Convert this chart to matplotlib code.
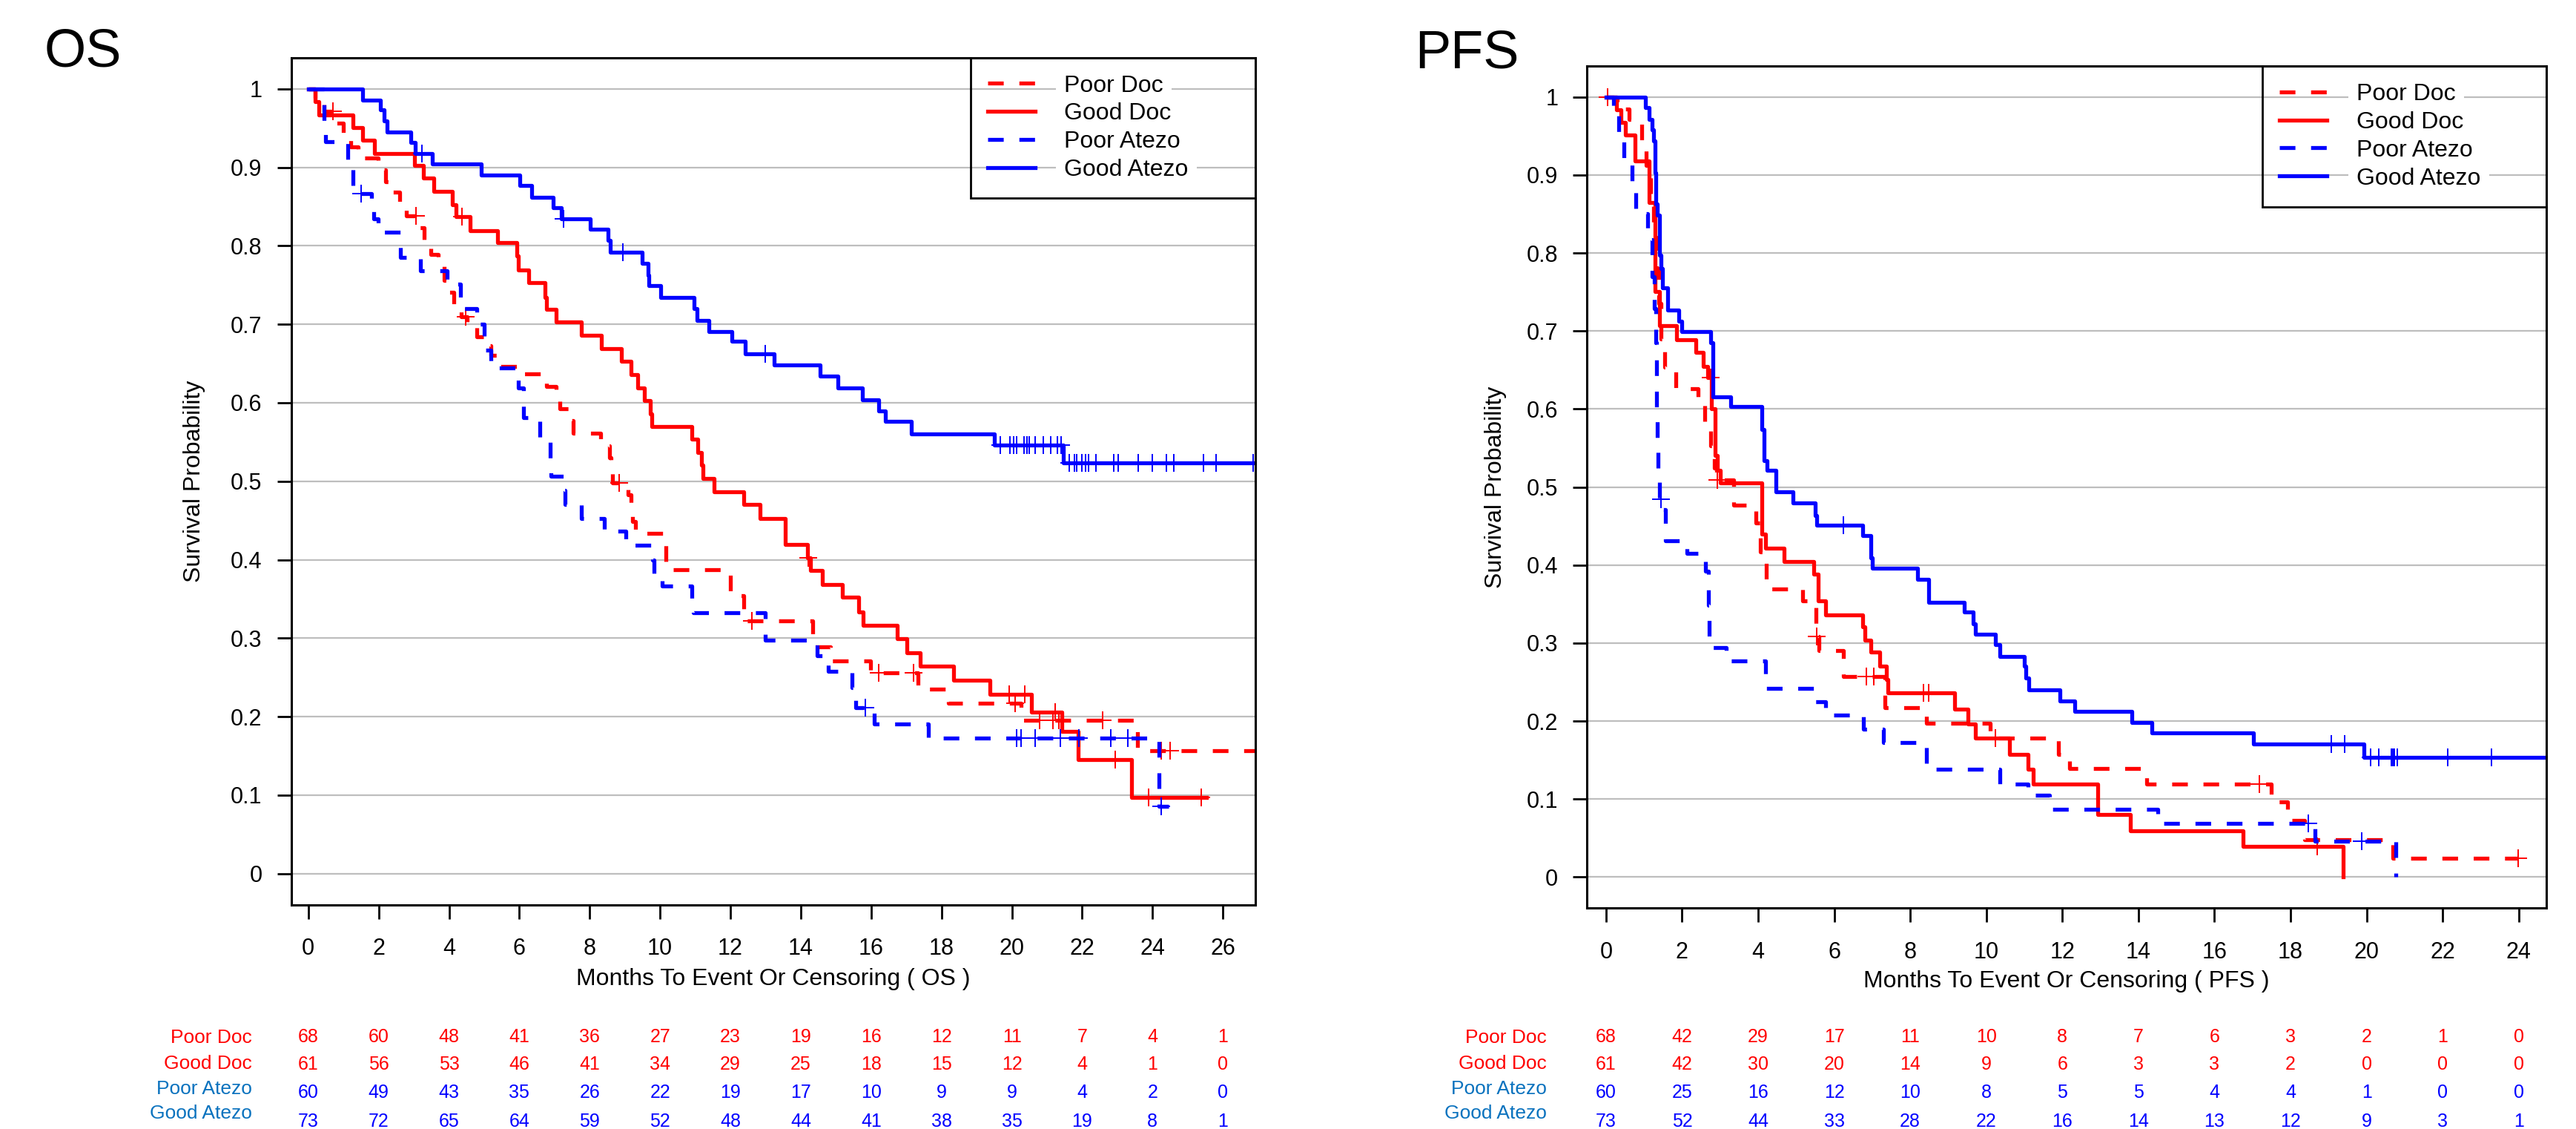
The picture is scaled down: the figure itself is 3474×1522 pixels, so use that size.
import matplotlib
matplotlib.use('Agg')
import matplotlib.pyplot as plt
import numpy as np
from matplotlib.transforms import blended_transform_factory

plt.rcParams['font.family'] = ['Liberation Sans', 'DejaVu Sans']

groups = ['Poor Doc', 'Good Doc', 'Poor Atezo', 'Good Atezo']
line_colors = ['#FF0000', '#FF0000', '#0000FF', '#0000FF']
label_colors = ['#FF0000', '#FF0000', '#0A72BE', '#0A72BE']
line_styles = [(0, (4, 4)), 'solid', (0, (4, 4)), 'solid']

# ---------------- OS (months) ----------------
os_poor_doc_t = [0.19, 0.45, 0.80, 0.99, 1.20, 1.41, 1.98, 2.20, 2.35, 2.60, 2.78, 3.10, 3.30, 3.48, 3.70, 3.86,
                 4.00, 4.14, 4.35, 4.52, 4.80, 4.97, 5.20, 5.41, 6.12, 6.77, 7.05, 7.15, 7.40, 7.53, 8.30, 8.56,
                 8.60, 8.65, 9.08, 9.18, 9.22, 9.30, 10.16, 12.00, 12.37, 14.34, 14.85, 15.98, 17.33, 18.19,
                 20.26, 23.58]
os_poor_doc_s = [0.985, 0.971, 0.956, 0.941, 0.926, 0.912, 0.897, 0.882, 0.868, 0.853, 0.838, 0.823, 0.808, 0.789,
                 0.774, 0.756, 0.741, 0.725, 0.710, 0.696, 0.684, 0.673, 0.660, 0.646, 0.637, 0.621, 0.606, 0.592,
                 0.577, 0.561, 0.545, 0.530, 0.514, 0.498, 0.483, 0.468, 0.449, 0.434, 0.387, 0.354, 0.322, 0.289,
                 0.271, 0.256, 0.235, 0.217, 0.195, 0.157]
os_poor_doc_cens = [0.70, 3.06, 4.47, 8.84, 12.60, 16.22, 17.20, 20.10, 20.79, 21.16, 21.33, 22.57, 24.24, 24.50]
os_poor_doc_end = 27.5

os_good_doc_t = [0.19, 0.30, 1.27, 1.55, 1.88, 3.01, 3.27, 3.56, 4.09, 4.19, 4.61, 5.38, 5.93, 5.98, 6.26, 6.73,
                 6.78, 7.04, 7.76, 8.33, 8.89, 9.17, 9.36, 9.55, 9.72, 9.76, 10.91, 11.08, 11.18, 11.21, 11.53,
                 12.37, 12.84, 13.55, 14.20, 14.27, 14.62, 15.18, 15.65, 15.77, 16.75, 17.02, 17.40, 18.34, 19.37,
                 20.55, 21.42, 21.89, 23.40]
os_good_doc_s = [0.984, 0.967, 0.951, 0.935, 0.918, 0.902, 0.886, 0.869, 0.852, 0.837, 0.819, 0.804, 0.787, 0.769,
                 0.753, 0.734, 0.719, 0.703, 0.686, 0.669, 0.653, 0.636, 0.619, 0.603, 0.586, 0.570, 0.554, 0.537,
                 0.521, 0.504, 0.487, 0.470, 0.4525, 0.419, 0.402, 0.386, 0.368, 0.352, 0.333, 0.316, 0.299, 0.281,
                 0.264, 0.246, 0.228, 0.206, 0.1815, 0.145, 0.097]
os_good_doc_cens = [4.36, 14.22, 19.92, 20.36, 21.23, 22.93, 23.89, 25.38]
os_good_doc_end = 25.53

os_poor_atezo_t = [0.45, 0.50, 1.13, 1.26, 1.79, 1.85, 1.98, 2.62, 3.18, 3.95, 4.33, 4.80, 5.00, 5.19, 5.97, 6.12,
                   6.59, 6.87, 6.89, 7.27, 7.30, 7.76, 8.42, 9.03, 9.79, 9.82, 10.05, 10.91, 10.95, 13.00, 14.46,
                   14.78, 15.45, 15.56, 16.08, 17.63, 24.19]
os_poor_atezo_s = [0.950, 0.933, 0.900, 0.867, 0.850, 0.834, 0.817, 0.785, 0.768, 0.751, 0.720, 0.700, 0.667,
                   0.644, 0.619, 0.581, 0.556, 0.525, 0.506, 0.488, 0.470, 0.4525, 0.436, 0.418, 0.400, 0.383,
                   0.3665, 0.349, 0.332, 0.297, 0.278, 0.258, 0.237, 0.211, 0.191, 0.1725, 0.086]
os_poor_atezo_cens = [1.50, 15.84, 20.13, 20.26, 20.67, 21.37, 21.91, 22.81, 23.29, 24.24]
os_poor_atezo_end = 24.45

os_good_atezo_t = [1.55, 2.05, 2.15, 2.25, 2.92, 3.04, 3.53, 4.91, 6.02, 6.35, 6.96, 7.20, 8.02, 8.52, 8.58, 9.50,
                   9.65, 9.69, 10.02, 10.96, 11.06, 11.39, 12.05, 12.42, 13.24, 14.55, 15.06, 15.75, 16.22, 16.41,
                   17.14, 19.51, 21.46]
os_good_atezo_s = [0.986, 0.973, 0.959, 0.945, 0.932, 0.918, 0.904, 0.890, 0.877, 0.862, 0.849, 0.834, 0.821,
                   0.807, 0.792, 0.778, 0.763, 0.749, 0.734, 0.720, 0.705, 0.691, 0.678, 0.662, 0.648, 0.634,
                   0.619, 0.604, 0.590, 0.576, 0.560, 0.546, 0.523]
os_good_atezo_cens = [3.23, 7.25, 8.94, 12.99, 19.68, 19.94, 20.05, 20.14, 20.34, 20.42, 20.50, 20.67, 20.90,
                      21.11, 21.30, 21.39, 21.63, 21.77, 21.84, 22.00, 22.10, 22.17, 22.38, 22.90, 23.02, 23.60,
                      24.00, 24.40, 24.60, 25.44, 25.80, 26.85]
os_good_atezo_end = 26.85

os_risk_times = list(range(0, 27, 2))
os_risk = [
    [68, 60, 48, 41, 36, 27, 23, 19, 16, 12, 11, 7, 4, 1],
    [61, 56, 53, 46, 41, 34, 29, 25, 18, 15, 12, 4, 1, 0],
    [60, 49, 43, 35, 26, 22, 19, 17, 10, 9, 9, 4, 2, 0],
    [73, 72, 65, 64, 59, 52, 48, 44, 41, 38, 35, 19, 8, 1],
]

# ---------------- PFS (months) ----------------
pfs_poor_doc_t = [0.30, 0.60, 0.94, 1.05, 1.18, 1.25, 1.32, 1.38, 1.45, 1.55, 1.84, 2.43, 2.60, 2.75, 2.85, 2.90,
                  3.36, 3.94, 4.05, 4.21, 5.17, 5.52, 5.60, 6.25, 7.33, 8.42, 10.10, 11.89, 12.18, 14.21, 17.49,
                  17.93, 18.36, 20.69]
pfs_poor_doc_s = [0.985, 0.971, 0.941, 0.912, 0.865, 0.820, 0.780, 0.735, 0.690, 0.654, 0.6265, 0.6126, 0.583,
                  0.553, 0.524, 0.509, 0.477, 0.454, 0.4165, 0.3695, 0.354, 0.3085, 0.2906, 0.2568, 0.2173, 0.1974,
                  0.1786, 0.157, 0.139, 0.1196, 0.096, 0.0726, 0.0482, 0.0238]
pfs_poor_doc_cens = [0.04, 2.93, 5.55, 6.85, 7.04, 10.24, 17.18, 23.99]
pfs_poor_doc_end = 23.99

pfs_good_doc_t = [0.28, 0.39, 0.51, 0.77, 1.14, 1.29, 1.40, 1.85, 2.37, 2.56, 2.68, 2.78, 2.86, 2.93, 3.01, 4.09,
                  4.20, 4.69, 5.47, 5.58, 5.77, 6.74, 6.81, 6.96, 7.19, 7.37, 7.41, 9.16, 9.52, 9.72, 10.60, 11.09,
                  11.24, 12.93, 13.79, 16.76, 19.38]
pfs_good_doc_s = [0.984, 0.967, 0.951, 0.918, 0.865, 0.751, 0.707, 0.689, 0.6727, 0.6544, 0.640, 0.600, 0.540,
                  0.5218, 0.5055, 0.440, 0.422, 0.4045, 0.3883, 0.3545, 0.3364, 0.3207, 0.3037, 0.2887, 0.270,
                  0.253, 0.236, 0.2155, 0.1966, 0.1778, 0.157, 0.1384, 0.1196, 0.0801, 0.0595, 0.0395, 0.0]
pfs_good_doc_cens = [2.75, 8.34, 8.49, 18.70]
pfs_good_doc_end = 19.38

pfs_poor_atezo_t = [0.20, 0.34, 0.47, 0.69, 0.79, 1.10, 1.22, 1.28, 1.30, 1.32, 1.33, 1.35, 1.37, 1.40, 1.51, 1.57,
                    2.13, 2.62, 2.69, 2.72, 3.16, 4.19, 5.51, 5.77, 6.77, 7.30, 8.42, 10.36, 11.09, 11.67, 14.50,
                    18.65, 20.77]
pfs_poor_atezo_s = [0.983, 0.950, 0.917, 0.883, 0.850, 0.817, 0.770, 0.729, 0.685, 0.644, 0.598, 0.5545, 0.5108,
                    0.484, 0.471, 0.4315, 0.4146, 0.392, 0.3488, 0.2943, 0.2767, 0.2418, 0.2248, 0.2072, 0.1891,
                    0.1722, 0.1384, 0.1196, 0.1045, 0.087, 0.0689, 0.0463, 0.0]
pfs_poor_atezo_cens = [1.44, 18.46, 19.87]
pfs_poor_atezo_end = 20.77

pfs_good_atezo_t = [1.03, 1.14, 1.22, 1.25, 1.29, 1.31, 1.34, 1.40, 1.44, 1.49, 1.63, 1.92, 2.00, 2.75, 2.81, 3.27,
                    4.09, 4.15, 4.24, 4.46, 4.91, 5.51, 5.55, 6.74, 6.96, 7.00, 8.19, 8.49, 9.42, 9.65, 9.72, 10.24,
                    10.36, 10.99, 11.04, 11.11, 11.94, 12.32, 13.83, 14.36, 17.03, 19.92]
pfs_good_atezo_s = [0.986, 0.971, 0.958, 0.944, 0.903, 0.863, 0.849, 0.797, 0.780, 0.755, 0.727, 0.713, 0.699,
                    0.685, 0.616, 0.603, 0.574, 0.534, 0.521, 0.4935, 0.4796, 0.4634, 0.4514, 0.438, 0.409, 0.396,
                    0.382, 0.3526, 0.3395, 0.3244, 0.3113, 0.298, 0.283, 0.270, 0.2549, 0.2399, 0.226, 0.2124,
                    0.1985, 0.1846, 0.1703, 0.1534]
pfs_good_atezo_cens = [6.25, 19.07, 19.43, 20.11, 20.31, 20.66, 20.69, 20.72, 20.81, 22.13, 23.28]
pfs_good_atezo_end = 24.72

pfs_risk_times = list(range(0, 25, 2))
pfs_risk = [
    [68, 42, 29, 17, 11, 10, 8, 7, 6, 3, 2, 1, 0],
    [61, 42, 30, 20, 14, 9, 6, 3, 3, 2, 0, 0, 0],
    [60, 25, 16, 12, 10, 8, 5, 5, 4, 4, 1, 0, 0],
    [73, 52, 44, 33, 28, 22, 16, 14, 13, 12, 9, 3, 1],
]

os_curves = [
    (os_poor_doc_t, os_poor_doc_s, os_poor_doc_cens, os_poor_doc_end),
    (os_good_doc_t, os_good_doc_s, os_good_doc_cens, os_good_doc_end),
    (os_poor_atezo_t, os_poor_atezo_s, os_poor_atezo_cens, os_poor_atezo_end),
    (os_good_atezo_t, os_good_atezo_s, os_good_atezo_cens, os_good_atezo_end),
]
pfs_curves = [
    (pfs_poor_doc_t, pfs_poor_doc_s, pfs_poor_doc_cens, pfs_poor_doc_end),
    (pfs_good_doc_t, pfs_good_doc_s, pfs_good_doc_cens, pfs_good_doc_end),
    (pfs_poor_atezo_t, pfs_poor_atezo_s, pfs_poor_atezo_cens, pfs_poor_atezo_end),
    (pfs_good_atezo_t, pfs_good_atezo_s, pfs_good_atezo_cens, pfs_good_atezo_end),
]

W, H = 3474, 1522
fig = plt.figure(figsize=(W / 200, H / 200), dpi=200)


def km_panel(rect, curves, xlim, xticks, risk_times, risk, xlabel, ylabel_x, label_x):
    ax = fig.add_axes(rect)
    ax.set_xlim(*xlim)
    ax.set_ylim(-0.04, 1.04)
    ax.set_yticks(np.arange(0, 1.01, 0.1))
    ax.set_yticklabels(['0'] + ['%.1f' % v for v in np.arange(0.1, 0.95, 0.1)] + ['1'])
    ax.set_xticks(xticks)
    ax.yaxis.grid(True, color='#BEBEBE', lw=0.8)
    ax.set_axisbelow(True)
    for sp in ax.spines.values():
        sp.set_linewidth(1.1)
    ax.tick_params(axis='both', direction='out', length=7, width=1.0, labelsize=11)
    ax.tick_params(axis='y', pad=7)
    ax.tick_params(axis='x', pad=9)

    for (t, s, cens, end), name, col, ls in zip(curves, groups, line_colors, line_styles):
        tt = np.r_[0.0, t, end]
        ss = np.r_[1.0, s, s[-1]]
        ax.step(tt, ss, where='post', color=col, lw=1.9, linestyle=ls, label=name)
        idx = np.searchsorted(tt, cens, side='right') - 1
        ax.plot(cens, ss[idx], linestyle='none', marker='+', ms=8.5, mew=0.7, color=col)

    ax.set_xlabel(xlabel, fontsize=11.5)
    ax.xaxis.set_label_coords(0.5, -0.074)
    ax.set_ylabel('Survival Probability', fontsize=11.5)
    ax.yaxis.set_label_coords(ylabel_x, 0.5)

    leg = ax.legend(loc='upper left', bbox_to_anchor=(0.7045, 0.833, 0.2955, 0.167), mode='expand',
                    borderaxespad=0, fancybox=False, edgecolor='black', facecolor='none', framealpha=1,
                    fontsize=11.5, handlelength=2.0, handletextpad=1.25, labelspacing=0.25, borderpad=0.72)
    leg.get_frame().set_linewidth(1.0)
    for txt in leg.get_texts():
        txt.set_bbox(dict(facecolor='white', edgecolor='none', pad=4))

    # numbers at risk
    tr_num = blended_transform_factory(ax.transData, fig.transFigure)
    tr_lab = blended_transform_factory(ax.transAxes, fig.transFigure)
    num_rows = [1398, 1435, 1473, 1512]
    lab_rows = [1399, 1434, 1468, 1501]
    for i in range(4):
        fig.text(label_x, 1 - lab_rows[i] / H, groups[i], transform=tr_lab, ha='right', va='center',
                 color=label_colors[i], fontsize=9.5)
        for tm, n in zip(risk_times, risk[i]):
            fig.text(tm, 1 - num_rows[i] / H, str(n), transform=tr_num, ha='center', va='center',
                     color=line_colors[i], fontsize=9)
    return ax


ax_os = km_panel([392.5 / W, 1 - 1220 / H, 1300.4 / W, 1142.5 / H], os_curves, (-0.49, 26.92),
                 list(range(0, 27, 2)), os_risk_times, os_risk, 'Months To Event Or Censoring ( OS )',
                 -0.089, -0.0404)
ax_pfs = km_panel([2140.2 / W, 1 - 1224.4 / H, 1293.5 / W, 1135.7 / H], pfs_curves, (-0.5, 24.72),
                  list(range(0, 25, 2)), pfs_risk_times, pfs_risk, 'Months To Event Or Censoring ( PFS )',
                  -0.084, -0.0421)

fig.text(60 / W, 1 - 90 / H, 'OS', fontsize=26, va='baseline', ha='left')
fig.text(1908 / W, 1 - 92 / H, 'PFS', fontsize=26, va='baseline', ha='left')

fig.savefig('out.png', dpi=200)
